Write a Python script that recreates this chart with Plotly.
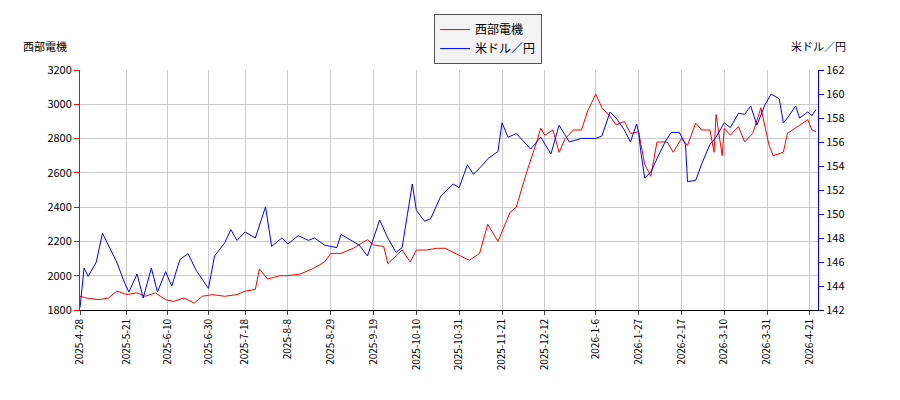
import plotly.graph_objects as go

stock_dates = ["2025-04-28","2025-05-01","2025-05-07","2025-05-12","2025-05-16","2025-05-21","2025-05-26","2025-05-30","2025-06-04","2025-06-09","2025-06-13","2025-06-18","2025-06-23","2025-06-27","2025-07-02","2025-07-08","2025-07-14","2025-07-18","2025-07-23","2025-07-25","2025-07-29","2025-08-04","2025-08-08","2025-08-14","2025-08-20","2025-08-26","2025-08-29","2025-09-03","2025-09-09","2025-09-12","2025-09-16","2025-09-19","2025-09-24","2025-09-26","2025-10-01","2025-10-03","2025-10-07","2025-10-10","2025-10-15","2025-10-20","2025-10-24","2025-10-29","2025-10-31","2025-11-05","2025-11-10","2025-11-14","2025-11-19","2025-11-21","2025-11-25","2025-11-28","2025-12-03","2025-12-08","2025-12-10","2025-12-12","2025-12-16","2025-12-19","2025-12-22","2025-12-26","2025-12-30","2026-01-02","2026-01-06","2026-01-09","2026-01-13","2026-01-16","2026-01-20","2026-01-23","2026-01-27","2026-01-30","2026-02-02","2026-02-05","2026-02-10","2026-02-13","2026-02-17","2026-02-20","2026-02-24","2026-02-27","2026-03-03","2026-03-05","2026-03-06","2026-03-09","2026-03-10","2026-03-13","2026-03-17","2026-03-20","2026-03-24","2026-03-28","2026-04-01","2026-04-03","2026-04-08","2026-04-10","2026-04-15","2026-04-20","2026-04-22","2026-04-24"]
stock_vals = [1880,1870,1860,1870,1910,1890,1900,1880,1900,1860,1850,1870,1840,1880,1890,1880,1890,1910,1920,2040,1980,2000,2000,2010,2040,2080,2130,2130,2160,2180,2210,2180,2170,2070,2130,2150,2080,2150,2150,2160,2160,2130,2120,2090,2130,2300,2200,2260,2370,2400,2600,2780,2860,2820,2850,2720,2800,2850,2850,2960,3060,2980,2930,2880,2900,2830,2840,2650,2580,2780,2780,2720,2800,2760,2890,2850,2850,2720,2940,2700,2860,2820,2870,2780,2830,2980,2760,2700,2720,2830,2870,2910,2850,2840]

fx_dates = ["2025-04-28","2025-04-30","2025-05-02","2025-05-06","2025-05-09","2025-05-13","2025-05-16","2025-05-20","2025-05-22","2025-05-26","2025-05-29","2025-06-02","2025-06-05","2025-06-09","2025-06-12","2025-06-16","2025-06-20","2025-06-24","2025-06-30","2025-07-03","2025-07-08","2025-07-11","2025-07-14","2025-07-18","2025-07-23","2025-07-28","2025-07-31","2025-08-05","2025-08-08","2025-08-13","2025-08-18","2025-08-21","2025-08-26","2025-09-01","2025-09-03","2025-09-08","2025-09-12","2025-09-16","2025-09-22","2025-09-26","2025-09-30","2025-10-03","2025-10-08","2025-10-10","2025-10-14","2025-10-17","2025-10-22","2025-10-28","2025-10-31","2025-11-04","2025-11-07","2025-11-11","2025-11-14","2025-11-19","2025-11-21","2025-11-24","2025-11-28","2025-12-03","2025-12-05","2025-12-10","2025-12-15","2025-12-19","2025-12-24","2025-12-30","2026-01-06","2026-01-09","2026-01-13","2026-01-16","2026-01-20","2026-01-23","2026-01-26","2026-01-27","2026-01-28","2026-01-30","2026-02-02","2026-02-05","2026-02-09","2026-02-12","2026-02-16","2026-02-19","2026-02-20","2026-02-24","2026-02-27","2026-03-03","2026-03-06","2026-03-10","2026-03-13","2026-03-17","2026-03-20","2026-03-23","2026-03-26","2026-03-30","2026-04-02","2026-04-06","2026-04-08","2026-04-10","2026-04-14","2026-04-16","2026-04-20","2026-04-22","2026-04-24"]
fx_vals = [142.2,145.5,144.8,146.0,148.4,147.0,146.0,144.2,143.5,145.0,143.0,145.5,143.5,145.2,144.0,146.2,146.7,145.3,143.8,146.5,147.6,148.7,147.8,148.5,148.0,150.6,147.3,148.0,147.5,148.2,147.8,148.0,147.4,147.2,148.3,147.8,147.4,146.5,149.5,148.0,146.8,147.2,152.5,150.3,149.4,149.6,151.5,152.5,152.2,154.1,153.3,154.0,154.6,155.2,157.6,156.4,156.7,155.8,155.4,156.4,155.0,157.4,156.0,156.3,156.3,156.5,158.5,158.0,157.0,156.0,157.5,156.8,155.3,153.0,153.5,154.6,156.0,156.8,156.8,155.8,152.7,152.8,154.2,155.8,156.4,157.6,157.2,158.4,158.3,159.0,157.4,159.1,160.0,159.6,157.6,158.0,159.0,158.0,158.5,158.2,158.7]

tick_vals = ["2025-04-28","2025-05-21","2025-06-10","2025-06-30","2025-07-18","2025-08-08","2025-08-29",
             "2025-09-19","2025-10-10","2025-10-31","2025-11-21","2025-12-12","2026-01-06","2026-01-27",
             "2026-02-17","2026-03-10","2026-03-31","2026-04-21"]
tick_text = ["2025-4-28","2025-5-21","2025-6-10","2025-6-30","2025-7-18","2025-8-8","2025-8-29",
             "2025-9-19","2025-10-10","2025-10-31","2025-11-21","2025-12-12","2026-1-6","2026-1-27",
             "2026-2-17","2026-3-10","2026-3-31","2026-4-21"]

fig = go.Figure()
fig.add_trace(go.Scatter(x=stock_dates, y=stock_vals, name="西部電機", mode="lines",
                         line=dict(color="#ff0000", width=1)))
fig.add_trace(go.Scatter(x=fx_dates, y=fx_vals, name="米ドル／円", mode="lines", yaxis="y2",
                         line=dict(color="#0000ff", width=1)))

grid = "#cccccc"
fig.update_layout(
    width=900, height=400, margin=dict(l=72, r=90, t=62, b=98, autoexpand=False),
    paper_bgcolor="white", plot_bgcolor="white",
    font=dict(family="Noto Sans CJK JP", size=11, color="#000"),
    xaxis=dict(type="date", range=["2025-04-28", "2026-04-25"], tickvals=tick_vals, ticktext=tick_text,
               tickangle=-90, showgrid=True, gridcolor=grid, showline=True, linecolor="#000",
               ticks="outside", ticklen=4, zeroline=False, tickfont=dict(size=10), automargin=False),
    yaxis=dict(range=[1800, 3200], dtick=200, showgrid=True, gridcolor=grid, showline=True,
               linecolor="#ff0000", ticks="outside", tickcolor="#ff0000", ticklen=5,
               zeroline=False, tickfont=dict(size=11), automargin=False),
    yaxis2=dict(range=[142, 162], dtick=2, overlaying="y", side="right", showgrid=False,
                showline=True, linecolor="#0000ff", ticks="outside", tickcolor="#0000ff",
                ticklen=5, zeroline=False, tickfont=dict(size=11), automargin=False),
    legend=dict(x=0.553, xanchor="center", y=1.233, yanchor="top", yref="paper",
                bordercolor="#555", borderwidth=1, bgcolor="#f3f3f3", font=dict(size=12)),
    showlegend=True,
    annotations=[
        dict(text="西部電機", xref="paper", yref="paper", x=-0.048, y=1.1, showarrow=False,
             xanchor="center", yanchor="middle", font=dict(size=11)),
        dict(text="米ドル／円", xref="paper", yref="paper", x=1.0, y=1.1, showarrow=False,
             xanchor="center", yanchor="middle", font=dict(size=11)),
    ],
)
fig.write_html("out.html")
